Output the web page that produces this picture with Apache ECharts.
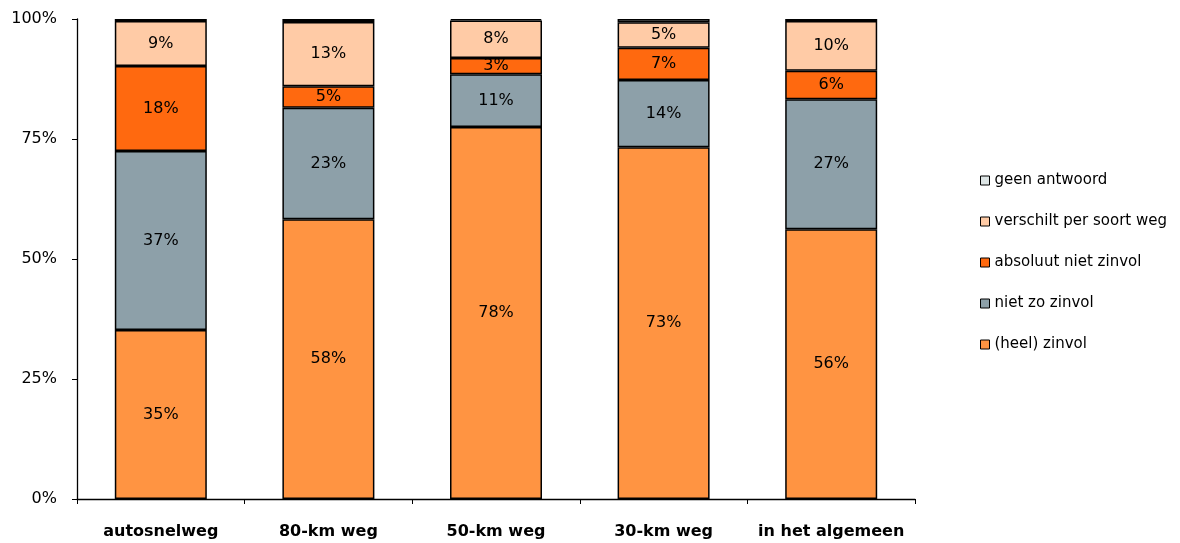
<!DOCTYPE html>
<html><head><meta charset="utf-8">
<script src="https://cdn.jsdelivr.net/npm/echarts@6/dist/echarts.min.js"></script>
<style>html,body{margin:0;padding:0;background:#fff}#c{width:1180px;height:543px}</style>
</head><body><div id="c"></div>
<script>
const categories = ['autosnelweg', '80-km weg', '50-km weg', '30-km weg', 'in het algemeen'];
const heelZinvol = [35.2, 58.3, 77.5, 73.3, 56.2];
const nietZoZinvol = [37.3, 23.2, 11.0, 14.0, 27.1];
const absoluutNietZinvol = [17.7, 4.5, 3.4, 6.7, 5.9];
const verschiltPerSoortWeg = [9.4, 13.4, 7.8, 5.3, 10.4];
const geenAntwoord = [0.4, 0.6, 0.3, 0.7, 0.4];
const yTicks = [0, 25, 50, 75, 100];

const font = 'DejaVu Sans, Verdana, sans-serif';
function mk(name, data, color, showLabel) {
  return {
    name, type: 'bar', stack: 'all', data, barWidth: 92,
    itemStyle: { color, borderColor: '#000', borderWidth: 1.5 },
    label: { show: showLabel, position: 'inside', color: '#000', fontSize: 16, fontFamily: font,
      formatter: p => Math.round(p.value) + '%' },
    emphasis: { disabled: true }
  };
}
const chart = echarts.init(document.getElementById('c'));
chart.setOption({
  animation: false,
  grid: { left: 77, top: 19, right: 265, bottom: 44, containLabel: false },
  legend: {
    orient: 'vertical', left: 975, top: 168, itemGap: 26, itemWidth: 9, itemHeight: 9,
    itemTextGap: 5,
    icon: 'rect',
    textStyle: { fontSize: 15, fontFamily: font, color: '#000' },
    itemStyle: { borderColor: '#000', borderWidth: 1 },
    data: ['geen antwoord', 'verschilt per soort weg', 'absoluut niet zinvol', 'niet zo zinvol', '(heel) zinvol']
  },
  xAxis: {
    type: 'category', data: categories,
    axisLine: { lineStyle: { color: '#000', width: 1.3 } },
    axisTick: { show: true, alignWithLabel: false, interval: 0, length: 5, lineStyle: { color: '#000' } },
    axisLabel: { interval: 0, fontSize: 16, fontWeight: 'bold', fontFamily: font, color: '#000', margin: 25 }
  },
  yAxis: {
    type: 'value', min: 0, max: 100, interval: 25,
    axisLine: { show: true, lineStyle: { color: '#000', width: 1.3 } },
    axisTick: { show: true, length: 5, lineStyle: { color: '#000' } },
    splitLine: { show: false },
    axisLabel: { fontSize: 16, fontFamily: font, color: '#000', margin: 20,
      formatter: v => yTicks.includes(v) ? v + '%' : '' }
  },
  series: [
    mk('(heel) zinvol', heelZinvol, '#FF9442', true),
    mk('niet zo zinvol', nietZoZinvol, '#8DA0A9', true),
    mk('absoluut niet zinvol', absoluutNietZinvol, '#FF690F', true),
    mk('verschilt per soort weg', verschiltPerSoortWeg, '#FFCBA6', true),
    mk('geen antwoord', geenAntwoord, '#DDE5E5', false)
  ]
});
</script></body></html>
